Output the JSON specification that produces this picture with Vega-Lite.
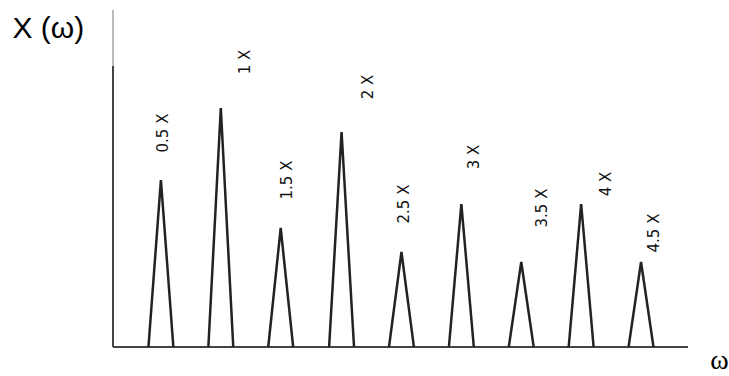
{
  "$schema": "https://vega.github.io/schema/vega-lite/v6.json",
  "width": 575,
  "height": 337,
  "autosize": "none",
  "padding": {"left": 113, "top": 10, "right": 41, "bottom": 29},
  "background": "white",
  "config": {"view": {"stroke": null}},
  "datasets": {
    "peaks": [
      {"harmonic": "0.5 X", "omega": 0.396, "amp": 0}, {"harmonic": "0.5 X", "omega": 0.5, "amp": 167}, {"harmonic": "0.5 X", "omega": 0.604, "amp": 0},
      {"harmonic": "1 X", "omega": 0.896, "amp": 0}, {"harmonic": "1 X", "omega": 1.0, "amp": 239}, {"harmonic": "1 X", "omega": 1.104, "amp": 0},
      {"harmonic": "1.5 X", "omega": 1.396, "amp": 0}, {"harmonic": "1.5 X", "omega": 1.5, "amp": 119}, {"harmonic": "1.5 X", "omega": 1.604, "amp": 0},
      {"harmonic": "2 X", "omega": 1.904, "amp": 0}, {"harmonic": "2 X", "omega": 2.008, "amp": 215}, {"harmonic": "2 X", "omega": 2.112, "amp": 0},
      {"harmonic": "2.5 X", "omega": 2.404, "amp": 0}, {"harmonic": "2.5 X", "omega": 2.508, "amp": 95}, {"harmonic": "2.5 X", "omega": 2.612, "amp": 0},
      {"harmonic": "3 X", "omega": 2.904, "amp": 0}, {"harmonic": "3 X", "omega": 3.008, "amp": 143}, {"harmonic": "3 X", "omega": 3.112, "amp": 0},
      {"harmonic": "3.5 X", "omega": 3.404, "amp": 0}, {"harmonic": "3.5 X", "omega": 3.508, "amp": 85}, {"harmonic": "3.5 X", "omega": 3.612, "amp": 0},
      {"harmonic": "4 X", "omega": 3.904, "amp": 0}, {"harmonic": "4 X", "omega": 4.008, "amp": 143}, {"harmonic": "4 X", "omega": 4.112, "amp": 0},
      {"harmonic": "4.5 X", "omega": 4.404, "amp": 0}, {"harmonic": "4.5 X", "omega": 4.508, "amp": 85}, {"harmonic": "4.5 X", "omega": 4.612, "amp": 0}
    ],
    "labels": [
      {"label": "0.5 X", "lx": 0.517, "ly": 214},
      {"label": "1 X", "lx": 1.2, "ly": 285},
      {"label": "1.5 X", "lx": 1.55, "ly": 167},
      {"label": "2 X", "lx": 2.225, "ly": 260},
      {"label": "2.5 X", "lx": 2.533, "ly": 143},
      {"label": "3 X", "lx": 3.117, "ly": 190},
      {"label": "3.5 X", "lx": 3.683, "ly": 139},
      {"label": "4 X", "lx": 4.217, "ly": 163},
      {"label": "4.5 X", "lx": 4.617, "ly": 114}
    ],
    "axes": [
      {"part": "x-axis", "a": 0.1, "b": 4.9, "c": 0, "d": 0},
      {"part": "y-lower", "a": 0.1, "b": 0.1, "c": 0, "d": 281},
      {"part": "y-upper", "a": 0.1, "b": 0.1, "c": 281, "d": 337}
    ]
  },
  "layer": [
    {
      "data": {"name": "axes"},
      "mark": {"type": "rule"},
      "encoding": {
        "x": {"field": "a", "type": "quantitative", "scale": {"domain": [0.1, 4.9], "nice": false, "zero": false},
              "axis": {"domain": false, "ticks": false, "labels": false, "grid": false, "title": "ω",
                       "titleFont": "Liberation Serif", "titleFontSize": 28, "titleFontWeight": "normal", "titleColor": "#000",
                       "titleX": 606, "titleY": 21, "titleAlign": "center", "titleBaseline": "alphabetic"}},
        "x2": {"field": "b"},
        "y": {"field": "c", "type": "quantitative", "scale": {"domain": [0, 337], "nice": false, "zero": false},
              "axis": {"domain": false, "ticks": false, "labels": false, "grid": false, "title": "X (ω)",
                       "titleFont": "Liberation Sans", "titleFontSize": 30, "titleFontWeight": "normal", "titleColor": "#000",
                       "titleAngle": 0, "titleX": -101, "titleY": 27, "titleAlign": "left", "titleBaseline": "alphabetic"}},
        "y2": {"field": "d"},
        "color": {"field": "part", "type": "nominal", "scale": {"domain": ["x-axis", "y-lower", "y-upper"], "range": ["#444444", "#444444", "#bbbbbb"]}, "legend": null},
        "strokeWidth": {"field": "part", "type": "nominal", "scale": {"domain": ["x-axis", "y-lower", "y-upper"], "range": [2, 2, 1]}, "legend": null}
      }
    },
    {
      "data": {"name": "peaks"},
      "mark": {"type": "line", "color": "#222222", "strokeWidth": 2.5},
      "encoding": {
        "x": {"field": "omega", "type": "quantitative"},
        "y": {"field": "amp", "type": "quantitative"},
        "detail": {"field": "harmonic", "type": "nominal"},
        "order": {"field": "omega", "type": "quantitative"}
      }
    },
    {
      "data": {"name": "labels"},
      "mark": {"type": "text", "angle": 270, "align": "center", "baseline": "middle", "font": "DejaVu Sans", "fontSize": 15, "color": "#111111"},
      "encoding": {
        "x": {"field": "lx", "type": "quantitative"},
        "y": {"field": "ly", "type": "quantitative"},
        "text": {"field": "label", "type": "nominal"}
      }
    }
  ]
}
